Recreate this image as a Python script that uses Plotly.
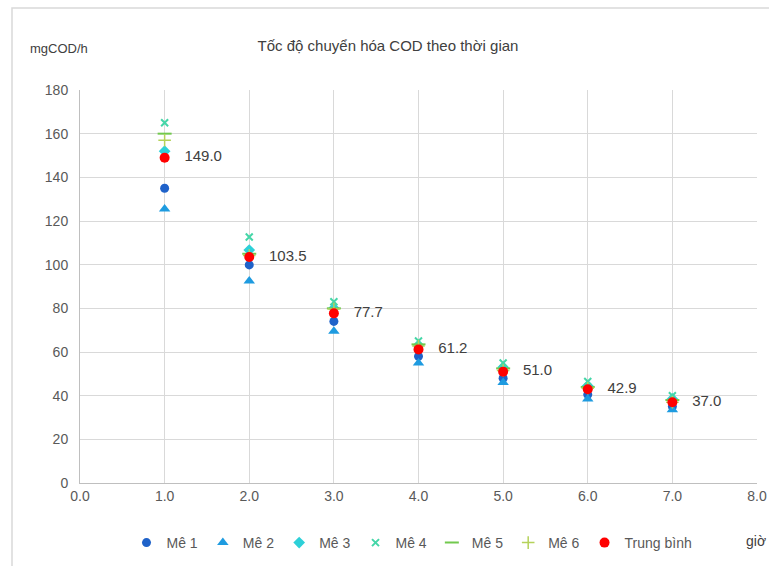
import plotly.graph_objects as go

# Thời gian (giờ)
hours = [1, 2, 3, 4, 5, 6, 7]

# Tốc độ chuyển hóa COD của từng mẻ (mgCOD/h)
me1 = [135.0, 99.9, 74.0, 58.0, 48.0, 40.5, 35.0]
me2 = [125.5, 92.5, 69.5, 55.0, 46.0, 38.5, 33.5]
me3 = [152.0, 106.7, 80.0, 63.0, 53.0, 44.5, 38.5]
me4 = [165.0, 112.7, 83.0, 65.0, 55.0, 46.5, 40.0]
me5 = [160.0, 105.0, 80.0, 63.5, 52.5, 44.0, 38.0]
me6 = [157.0, 104.2, 79.7, 62.7, 51.5, 43.4, 37.0]
avg = [149.0, 103.5, 77.7, 61.2, 51.0, 42.9, 37.0]

series = [
    ("Mê 1", me1, "circle", "#1F62C9", 9, None),
    ("Mê 2", me2, "triangle-up", "#1E9BE0", 10, None),
    ("Mê 3", me3, "diamond", "#2DD0D8", 9, None),
    ("Mê 4", me4, "x-thin-open", "#45D6A8", 7, 2),
    ("Mê 5", me5, "line-ew-open", "#72C94E", 10, 2),
    ("Mê 6", me6, "cross-thin-open", "#B5D25A", 9, 1.5),
]

fig = go.Figure()
for name, ys, sym, col, size, lw in series:
    marker = dict(symbol=sym, color=col, size=size)
    if lw:
        marker["line"] = dict(color=col, width=lw)
    fig.add_trace(go.Scatter(x=hours, y=ys, mode="markers", name=name, marker=marker))

fig.add_trace(go.Scatter(
    x=hours, y=avg, mode="markers+text", name="Trung bình",
    marker=dict(symbol="circle", color="#FF0000", size=10),
    text=[f"   {v:.1f}" for v in avg], textposition="middle right",
    textfont=dict(size=15, color="#404040", family="Liberation Sans"),
))

grid = "#D9D9D9"
fig.update_layout(
    width=769, height=566,
    margin=dict(l=80, r=12, t=90, b=83, autoexpand=False),
    paper_bgcolor="white", plot_bgcolor="white",
    font=dict(family="Liberation Sans", color="#595959", size=13),
    title=dict(text="Tốc độ chuyển hóa COD theo thời gian", x=(388 - 80) / 677, xref="paper",
               xanchor="center", y=1 - 46 / 566, yanchor="middle",
               font=dict(size=15, color="#404040")),
    xaxis=dict(range=[0, 8], dtick=1, tickformat=".1f", showgrid=True, gridcolor=grid,
               zeroline=False, showline=True, linecolor="#BFBFBF", ticks="",
               tickfont=dict(size=14), fixedrange=True),
    yaxis=dict(range=[0, 180], dtick=20, showgrid=True, gridcolor=grid,
               zeroline=False, showline=True, linecolor="#BFBFBF", ticks="",
               tickfont=dict(size=14), ticklabelstandoff=8, fixedrange=True),
    legend=dict(orientation="h", x=(412 - 80) / 677, xanchor="center", y=-60 / 393,
                yanchor="middle", font=dict(size=14, color="#595959"),
                itemwidth=30, tracegroupgap=0),
    showlegend=True,
)

# Nhãn đơn vị trục
fig.add_annotation(text="mgCOD/h", xref="paper", yref="paper", x=-52 / 677, y=1.0 + 42 / 393,
                   xanchor="left", yanchor="middle", showarrow=False,
                   font=dict(size=13, color="#404040"))
fig.add_annotation(text="giờ", xref="paper", yref="paper", x=1.0 - 13 / 677, y=-58 / 393,
                   xanchor="left", yanchor="middle", showarrow=False,
                   font=dict(size=14, color="#404040"))

# Khung viền biểu đồ
fig.add_shape(type="rect", xref="paper", yref="paper",
              x0=-68 / 677, x1=1.0 + 20 / 677, y0=-90 / 393, y1=1.0 + 82 / 393,
              line=dict(color="#D9D9D9", width=1.5), fillcolor="rgba(0,0,0,0)", layer="below")

fig.write_html("out.html")
